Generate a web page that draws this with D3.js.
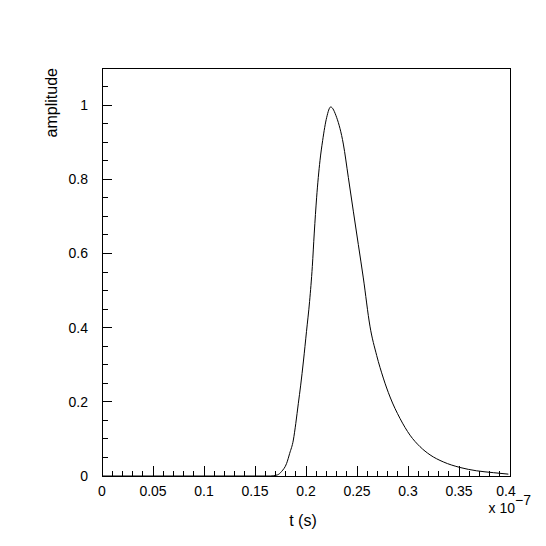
<!DOCTYPE html>
<html>
<head>
<meta charset="utf-8">
<script src="https://cdn.jsdelivr.net/npm/d3@7"></script>
<style>
  body { margin: 0; background: #fff; }
  svg { display: block; }
  .tick-label { font-family: "Liberation Sans", Arial, sans-serif; font-size: 14px; fill: #000; }
  .axis-title { font-family: "Liberation Sans", Arial, sans-serif; font-size: 16px; fill: #000; }
</style>
</head>
<body>
<svg id="chart"></svg>
<script>
// time values (units of 1e-7 s) and amplitude
const tValues = [0, 0.165, 0.172, 0.176, 0.181, 0.184, 0.1876, 0.19, 0.1925, 0.1948, 0.1975,
  0.2005, 0.2035, 0.2062, 0.2081, 0.2104, 0.2137, 0.2163, 0.2203, 0.2242, 0.23, 0.2366,
  0.2415, 0.2464, 0.2513, 0.2562, 0.2627, 0.2693, 0.2758, 0.2824, 0.2922, 0.302, 0.3118,
  0.3216, 0.3346, 0.351, 0.3673, 0.3837, 0.3984];
const amplitude = [0, 0, 0.003, 0.012, 0.034, 0.061, 0.097, 0.142, 0.196, 0.245, 0.31,
  0.39, 0.47, 0.565, 0.655, 0.75, 0.85, 0.904, 0.967, 0.995, 0.967, 0.895,
  0.805, 0.714, 0.624, 0.534, 0.404, 0.325, 0.264, 0.213, 0.155, 0.11, 0.079,
  0.057, 0.038, 0.023, 0.014, 0.009, 0.005];

const xTicks = [0, 0.05, 0.1, 0.15, 0.2, 0.25, 0.3, 0.35, 0.4];
const yTicks = [0, 0.2, 0.4, 0.6, 0.8, 1];

const margin = { top: 68, right: 36, bottom: 70, left: 102 };
const width = 546 - margin.left - margin.right;
const height = 546 - margin.top - margin.bottom;

const svg = d3.select('#chart')
  .attr('width', 546)
  .attr('height', 546)
  .append('g')
  .attr('transform', `translate(${margin.left}, ${margin.top})`);

const x = d3.scaleLinear().domain([0, 0.4]).range([0, width]);
const y = d3.scaleLinear().domain([0, 1.1]).range([height, 0]);

// frame
svg.append('rect')
  .attr('x', 0).attr('y', 0)
  .attr('width', width).attr('height', height)
  .attr('fill', 'none')
  .attr('stroke', '#000')
  .attr('stroke-width', 1)
  .attr('shape-rendering', 'crispEdges');

// x ticks, drawn inward (minor every 0.01)
const xMinor = d3.range(0, 0.4001, 0.01);
svg.append('g')
  .selectAll('line')
  .data(xMinor)
  .enter()
  .append('line')
  .attr('x1', d => x(d)).attr('x2', d => x(d))
  .attr('y1', height)
  .attr('y2', (d, i) => height - (i % 5 === 0 ? 10 : 5))
  .attr('stroke', '#000')
  .attr('shape-rendering', 'crispEdges');

// y ticks (minor every 0.05)
const yMinor = d3.range(0, 1.1001, 0.05);
svg.append('g')
  .selectAll('line')
  .data(yMinor)
  .enter()
  .append('line')
  .attr('y1', d => y(d)).attr('y2', d => y(d))
  .attr('x1', 0)
  .attr('x2', (d, i) => (i % 4 === 0 ? 10 : 6))
  .attr('stroke', '#000')
  .attr('shape-rendering', 'crispEdges');

// tick labels
svg.append('g')
  .selectAll('text')
  .data(xTicks)
  .enter()
  .append('text')
  .attr('class', 'tick-label')
  .attr('x', d => x(d))
  .attr('dx', (d, i) => (i === xTicks.length - 1 ? -4 : 0))
  .attr('y', height + 20)
  .attr('text-anchor', 'middle')
  .text(d => d);

svg.append('g')
  .selectAll('text')
  .data(yTicks)
  .enter()
  .append('text')
  .attr('class', 'tick-label')
  .attr('x', -14)
  .attr('y', d => y(d))
  .attr('dy', '0.35em')
  .attr('text-anchor', 'end')
  .text(d => d);

// exponent
svg.append('text')
  .attr('class', 'tick-label')
  .attr('x', x(0.4) + 5)
  .attr('y', height + 37)
  .attr('text-anchor', 'end')
  .text('x 10');
svg.append('text')
  .attr('class', 'tick-label')
  .attr('x', x(0.4) + 5)
  .attr('y', height + 29)
  .text('\u22127');

// axis titles
svg.append('text')
  .attr('class', 'axis-title')
  .attr('x', x(0.2) - 3)
  .attr('y', height + 50)
  .attr('text-anchor', 'middle')
  .text('t (s)');

svg.append('text')
  .attr('class', 'axis-title')
  .attr('transform', `translate(-45, 0) rotate(-90)`)
  .attr('text-anchor', 'end')
  .text('amplitude');

// pulse
const points = tValues.map((t, i) => [t, amplitude[i]]);
svg.append('path')
  .datum(points)
  .attr('fill', 'none')
  .attr('stroke', '#000')
  .attr('stroke-width', 1)
  .attr('d', d3.line()
    .x(d => x(d[0]))
    .y(d => y(d[1]))
    .curve(d3.curveMonotoneX));
</script>
</body>
</html>
